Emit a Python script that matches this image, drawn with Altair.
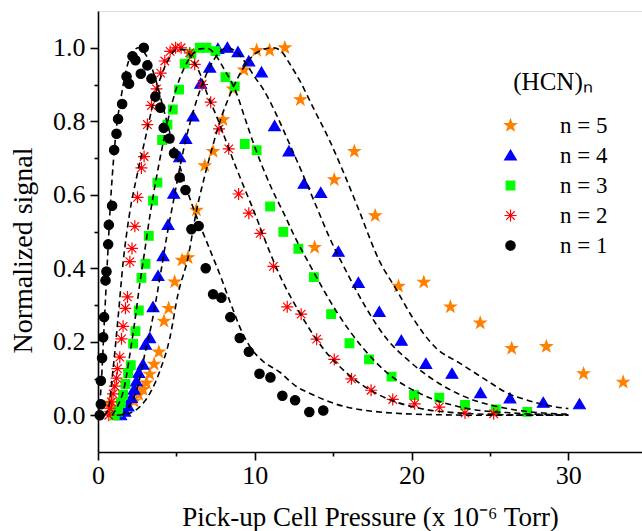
import altair as alt
import pandas as pd

n1_x = [0.11, 0.18, 0.18, 0.26, 0.33, 0.39, 0.48, 0.54, 0.65, 0.69, 0.9, 1.03, 1.18, 1.28, 1.54, 1.82, 1.98, 2.2, 2.39, 2.73, 2.92, 3.15, 3.41, 3.66, 3.98, 4.19, 4.56, 4.85, 5.21, 5.58, 5.96, 6.42, 6.87, 7.34, 7.87, 8.44, 9.04, 9.62, 10.3, 11.0, 11.76, 12.57, 13.48, 14.37]
n1_y = [0.0, 0.03, 0.094, 0.156, 0.212, 0.267, 0.367, 0.391, 0.465, 0.518, 0.57, 0.722, 0.766, 0.806, 0.847, 0.922, 0.902, 0.977, 0.966, 0.929, 1.0, 0.952, 0.916, 0.867, 0.837, 0.782, 0.753, 0.713, 0.647, 0.613, 0.506, 0.515, 0.4, 0.329, 0.32, 0.267, 0.21, 0.173, 0.113, 0.103, 0.053, 0.041, 0.009, 0.013]

n2_x = [0.69, 0.75, 0.86, 0.96, 1.07, 1.18, 1.24, 1.39, 1.5, 1.6, 1.75, 1.88, 2.03, 2.17, 2.35, 2.52, 2.77, 2.94, 3.15, 3.41, 3.73, 4.0, 4.26, 4.6, 4.95, 5.3, 5.85, 6.17, 6.64, 7.19, 7.72, 8.34, 8.97, 9.62, 10.35, 11.19, 12.07, 12.96, 13.95, 15.07, 16.17, 17.42, 18.8, 20.2, 21.77, 23.41, 25.24]
n2_y = [0.0, 0.019, 0.036, 0.058, 0.079, 0.101, 0.127, 0.158, 0.208, 0.242, 0.291, 0.322, 0.418, 0.454, 0.514, 0.593, 0.673, 0.704, 0.791, 0.843, 0.888, 0.931, 0.964, 0.99, 1.0, 1.0, 0.986, 0.955, 0.9, 0.852, 0.779, 0.725, 0.602, 0.55, 0.495, 0.405, 0.295, 0.275, 0.207, 0.152, 0.099, 0.068, 0.043, 0.031, 0.022, 0.006, 0.004]

n3_x = [1.07, 1.28, 1.45, 1.6, 1.75, 1.92, 2.09, 2.24, 2.39, 2.6, 2.77, 3.03, 3.24, 3.51, 3.79, 4.09, 4.43, 4.77, 5.17, 5.53, 5.96, 6.49, 6.92, 7.49, 8.13, 8.72, 9.36, 10.12, 10.98, 11.82, 12.78, 13.77, 14.87, 16.04, 17.29, 18.72, 20.16, 21.77, 23.41, 25.37, 27.38]
n3_y = [0.0, 0.01, 0.033, 0.056, 0.085, 0.115, 0.136, 0.195, 0.229, 0.285, 0.374, 0.412, 0.488, 0.584, 0.633, 0.749, 0.791, 0.832, 0.886, 0.957, 0.984, 1.0, 1.0, 0.991, 0.92, 0.895, 0.738, 0.721, 0.568, 0.499, 0.453, 0.376, 0.275, 0.196, 0.152, 0.105, 0.055, 0.048, 0.028, 0.016, 0.009]

n4_x = [1.45, 1.71, 1.92, 2.13, 2.3, 2.45, 2.6, 2.87, 3.03, 3.3, 3.51, 3.83, 4.15, 4.47, 4.83, 5.21, 5.6, 6.06, 6.55, 7.13, 7.65, 8.25, 8.93, 9.62, 10.43, 11.26, 12.18, 13.14, 14.21, 15.33, 16.61, 17.94, 19.35, 20.91, 22.58, 24.4, 26.28, 28.4, 30.71]
n4_y = [0.0, 0.01, 0.024, 0.047, 0.07, 0.092, 0.115, 0.138, 0.192, 0.21, 0.294, 0.379, 0.433, 0.518, 0.603, 0.702, 0.752, 0.813, 0.902, 0.946, 0.997, 1.0, 0.988, 0.963, 0.933, 0.787, 0.718, 0.63, 0.605, 0.445, 0.36, 0.281, 0.203, 0.14, 0.113, 0.06, 0.046, 0.034, 0.03]

n5_x = [0.75, 0.85, 2.3, 2.6, 2.87, 3.09, 3.3, 3.58, 3.88, 4.21, 4.51, 4.89, 5.36, 5.74, 6.28, 6.81, 7.34, 7.97, 8.61, 9.31, 10.12, 10.95, 11.92, 12.91, 13.82, 15.07, 16.35, 17.68, 19.17, 20.78, 22.48, 24.38, 26.39, 28.6, 30.97, 33.5]
n5_y = [0.033, 0.02, 0.038, 0.056, 0.07, 0.088, 0.112, 0.139, 0.172, 0.256, 0.291, 0.363, 0.422, 0.429, 0.558, 0.679, 0.718, 0.804, 0.888, 0.94, 0.993, 0.993, 1.0, 0.859, 0.457, 0.641, 0.718, 0.543, 0.351, 0.362, 0.295, 0.251, 0.182, 0.187, 0.113, 0.09]

# dashed fit curves
c1_x = [0.05, 0.2, 0.4, 0.6, 0.8, 1.0, 1.2, 1.45, 1.8, 2.1, 2.6, 2.9, 3.3, 3.7, 4.2, 4.7, 5.2, 5.7, 6.2, 7.0, 7.8, 8.5, 9.2, 9.8, 10.5, 11.6, 12.6, 13.7, 15.2, 17.5, 21.0, 25.0, 30.0]
c1_y = [0.0, 0.08, 0.25, 0.42, 0.58, 0.7, 0.79, 0.86, 0.94, 0.98, 1.0, 0.99, 0.96, 0.91, 0.83, 0.75, 0.68, 0.61, 0.55, 0.465, 0.38, 0.3, 0.225, 0.18, 0.148, 0.117, 0.08, 0.056, 0.03, 0.011, 0.002, 0.0, 0.0]

c2_x = [0.4, 0.65, 0.96, 1.28, 1.6, 2.0, 2.5, 3.0, 3.5, 4.0, 4.5, 5.0, 5.5, 6.0, 6.5, 7.0, 7.5, 8.0, 8.7, 9.3, 9.9, 10.9, 11.6, 12.85, 14.3, 16.0, 17.9, 20.5, 23.5, 26.5, 30.0]
c2_y = [0.0, 0.015, 0.125, 0.265, 0.415, 0.545, 0.655, 0.75, 0.845, 0.92, 0.968, 0.995, 0.995, 0.97, 0.93, 0.87, 0.82, 0.765, 0.686, 0.622, 0.56, 0.45, 0.38, 0.28, 0.185, 0.11, 0.056, 0.019, 0.005, 0.001, 0.0]

c3_x = [0.9, 1.18, 1.71, 2.03, 2.35, 2.66, 2.98, 3.3, 3.7, 4.1, 4.5, 5.0, 5.5, 6.0, 6.5, 7.0, 7.5, 8.0, 8.8, 9.4, 10.0, 10.5, 11.1, 11.9, 12.5, 13.5, 15.2, 16.9, 18.6, 20.7, 23.5, 26.5, 30.0]
c3_y = [0.0, 0.019, 0.083, 0.165, 0.256, 0.356, 0.447, 0.54, 0.64, 0.73, 0.81, 0.89, 0.945, 0.98, 0.997, 0.998, 0.98, 0.945, 0.88, 0.805, 0.73, 0.675, 0.615, 0.545, 0.49, 0.41, 0.283, 0.183, 0.11, 0.056, 0.019, 0.006, 0.001]

c4_x = [1.5, 1.92, 2.56, 2.98, 3.41, 3.73, 4.05, 4.4, 4.8, 5.2, 5.6, 6.1, 6.6, 7.1, 7.6, 8.2, 8.8, 9.4, 10.0, 10.5, 11.38, 12.22, 12.97, 13.93, 14.76, 15.83, 17.1, 18.38, 19.86, 21.56, 23.3, 26.0, 28.4, 30.0]
c4_y = [0.0, 0.019, 0.083, 0.165, 0.247, 0.32, 0.4, 0.49, 0.58, 0.67, 0.75, 0.83, 0.895, 0.945, 0.98, 1.0, 0.99, 0.96, 0.92, 0.89, 0.818, 0.738, 0.665, 0.568, 0.484, 0.392, 0.292, 0.21, 0.147, 0.092, 0.052, 0.019, 0.006, 0.003]

c5_x = [1.2, 1.71, 2.98, 3.94, 4.58, 5.1, 5.74, 6.28, 6.8, 7.3, 7.9, 8.5, 9.2, 9.8, 10.5, 11.2, 11.7, 12.22, 12.86, 13.82, 14.78, 15.62, 16.58, 17.95, 19.0, 20.08, 21.56, 23.07, 24.97, 26.03, 27.3, 29.0, 30.0]
c5_y = [0.0, 0.002, 0.038, 0.12, 0.21, 0.329, 0.429, 0.556, 0.65, 0.73, 0.815, 0.88, 0.94, 0.975, 0.995, 1.0, 0.99, 0.957, 0.911, 0.829, 0.747, 0.665, 0.565, 0.42, 0.344, 0.265, 0.183, 0.142, 0.09, 0.062, 0.042, 0.024, 0.018]

series_names = ["n = 5", "n = 4", "n = 3", "n = 2", "n = 1"]
series_colors = ["#FF8000", "#0000FF", "#00FF00", "#FF0000", "#000000"]
x_ticks = [0, 5, 10, 15, 20, 25, 30]
y_ticks = [0.0, 0.1, 0.2, 0.3, 0.4, 0.5, 0.6, 0.7, 0.8, 0.9, 1.0]

STAR = "M0,-1L0.235,-0.324L0.951,-0.309L0.38,0.124L0.588,0.809L0,0.4L-0.588,0.809L-0.38,0.124L-0.951,-0.309L-0.235,-0.324Z"
TRI = "M0,-0.9L0.97,0.75L-0.97,0.75Z"
SQR = "M-0.72,-0.72L0.72,-0.72L0.72,0.72L-0.72,0.72Z"
AST = "M-1,0L1,0M0,-1L0,1M-0.71,-0.71L0.71,0.71M-0.71,0.71L0.71,-0.71"
CIR = "M0.78,0A0.78,0.78,0,1,1,-0.78,0A0.78,0.78,0,1,1,0.78,0Z"
series_shapes = [STAR, TRI, SQR, AST, CIR]

# ---- tables ----
rows = []
for name, xs, ys in [("n = 5", n5_x, n5_y), ("n = 4", n4_x, n4_y), ("n = 3", n3_x, n3_y),
                     ("n = 2", n2_x, n2_y), ("n = 1", n1_x, n1_y)]:
    for a, b in zip(xs, ys):
        rows.append({"x": a, "y": b, "series": name})
points = pd.DataFrame(rows)

crow = []
for name, xs, ys in [("c1", c1_x, c1_y), ("c2", c2_x, c2_y), ("c3", c3_x, c3_y),
                     ("c4", c4_x, c4_y), ("c5", c5_x, c5_y)]:
    for a, b in zip(xs, ys):
        crow.append({"x": a, "y": b, "curve": name})
curves = pd.DataFrame(crow)

FONT = "Liberation Serif"
xscale = alt.Scale(domain=[0, 34.7], nice=False, zero=False)
yscale = alt.Scale(domain=[-0.1, 1.1], nice=False, zero=False)

xaxis = alt.Axis(
    values=x_ticks, labelExpr="datum.value % 10 === 0 ? datum.label : ''", format="d",
    title="Pick-up Cell Pressure (x 10⁻⁶ Torr)", grid=False,
    domainColor="black", domainWidth=1.6, tickColor="black", tickWidth=1.6,
    tickSize={"condition": {"test": "datum.value % 10 !== 0", "value": 4}, "value": 8},
    labelFont=FONT, labelFontSize=26, labelColor="black", labelPadding=2,
    labelFlush=False, labelOverlap=False,
    titleFont=FONT, titleFontSize=27, titleFontWeight="normal", titleColor="black",
    titleY=73, titleBaseline="alphabetic",
)
yaxis = alt.Axis(
    values=y_ticks,
    labelExpr="round(datum.value*10) % 2 === 0 ? format(datum.value, '.1f') : ''",
    title="Normalized signal", grid=False,
    domainColor="black", domainWidth=1.6, tickColor="black", tickWidth=1.6,
    tickSize={"condition": {"test": "round(datum.value*10) % 2 !== 0", "value": 4}, "value": 8},
    labelFont=FONT, labelFontSize=26, labelColor="black", labelPadding=5,
    labelFlush=False, labelOverlap=False,
    titleFont=FONT, titleFontSize=28, titleFontWeight="normal", titleColor="black",
    titleX=-75, titleY=239, titleAngle=270, titleAlign="center", titleBaseline="middle",
)

legend = alt.Legend(
    title="(HCN)ₙ", orient="none", legendX=401, legendY=59, padding=0,
    symbolSize=144, symbolStrokeWidth=1.2, symbolOpacity=1,
    labelFont=FONT, labelFontSize=23, labelColor="black", labelOffset=38,
    titleFont=FONT, titleFontSize=25, titleFontWeight="normal", titleColor="black",
    titleAnchor="middle", titlePadding=19, rowPadding=6,
)

pts = alt.Chart(points).mark_point(filled=True, opacity=1, strokeWidth=1.2, size=144).encode(
    x=alt.X("x:Q", scale=xscale, axis=xaxis),
    y=alt.Y("y:Q", scale=yscale, axis=yaxis),
    fill=alt.Fill("series:N", scale=alt.Scale(domain=series_names, range=series_colors), legend=legend, sort=series_names),
    stroke=alt.Stroke("series:N", scale=alt.Scale(domain=series_names, range=series_colors), legend=legend, sort=series_names),
    shape=alt.Shape("series:N", scale=alt.Scale(domain=series_names, range=series_shapes), legend=legend, sort=series_names),
)

lines = alt.Chart(curves).mark_line(color="black", strokeDash=[6, 4], strokeWidth=1.6, interpolate="monotone").encode(
    x=alt.X("x:Q", scale=xscale, axis=xaxis),
    y=alt.Y("y:Q", scale=yscale, axis=yaxis),
    detail="curve:N",
)

chart = alt.layer(pts, lines).properties(
    width=544, height=441,
    padding={"left": 98, "top": 11, "right": 0, "bottom": 79},
    autosize=alt.AutoSizeParams(type="none"),
).configure_view(strokeWidth=0, stroke="transparent").configure(font=FONT)

chart.save("out.html", embed_options={"renderer": "svg", "actions": False})
